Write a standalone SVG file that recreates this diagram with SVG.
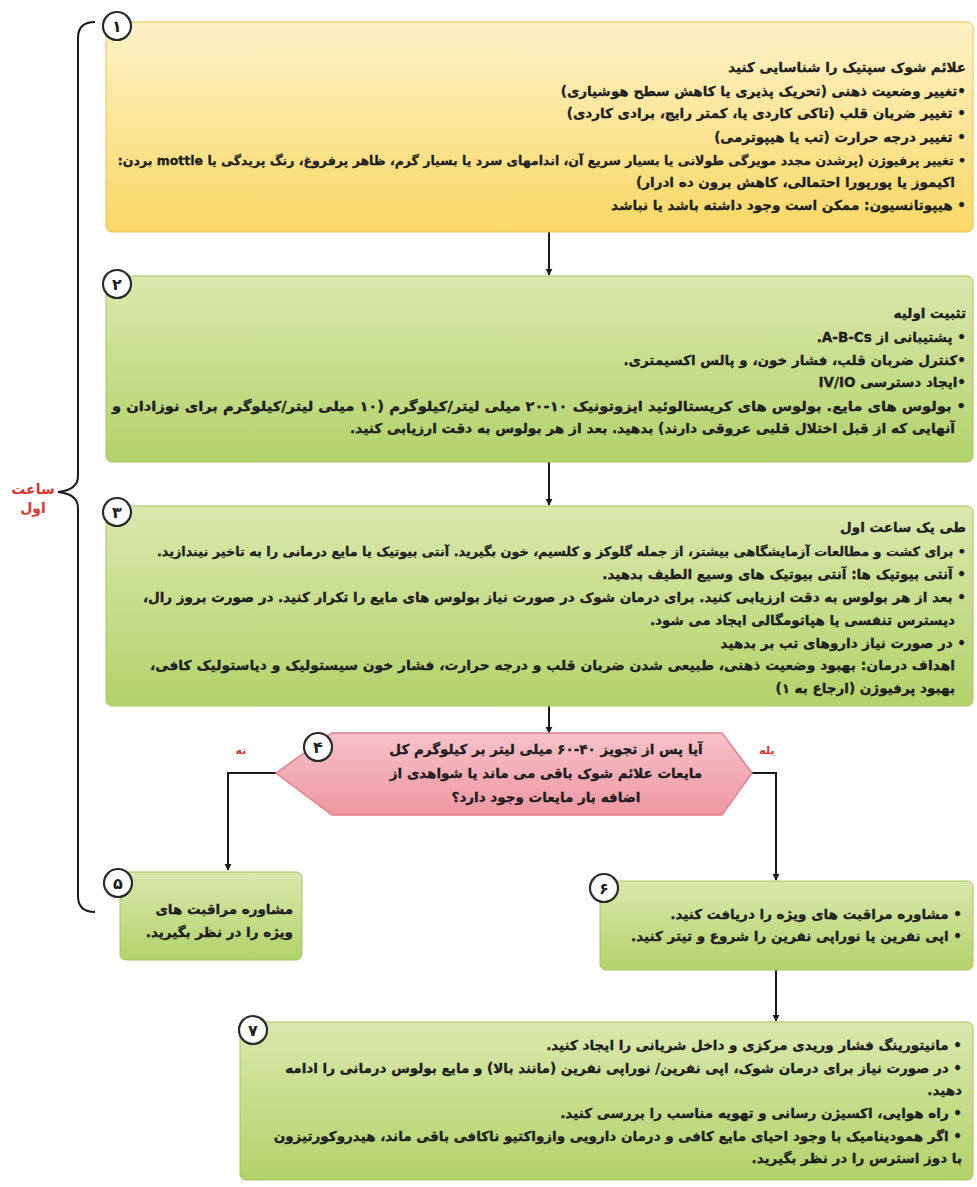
<svg xmlns="http://www.w3.org/2000/svg" width="977" height="1187" viewBox="0 0 977 1187">
<defs>
<linearGradient id="gY" x1="0" y1="0" x2="0" y2="1"><stop offset="0" stop-color="#fdf2c8"/><stop offset="1" stop-color="#f9d865"/></linearGradient>
<linearGradient id="gG" x1="0" y1="0" x2="0" y2="1"><stop offset="0" stop-color="#dae8ad"/><stop offset="1" stop-color="#b3d26a"/></linearGradient>
<linearGradient id="gP" x1="0" y1="0" x2="0" y2="1"><stop offset="0" stop-color="#f6c2c8"/><stop offset="1" stop-color="#ee97a3"/></linearGradient>
<marker id="ah" viewBox="0 0 10 10" refX="9" refY="5" markerWidth="7" markerHeight="8" orient="auto" markerUnits="userSpaceOnUse"><path d="M0,0 L10,5 L0,10 z" fill="#1a1a1a"/></marker>
<style>
.t{font-family:'DejaVu Sans','Noto Sans',sans-serif;font-weight:bold;font-size:13.5px;fill:#1e1e1e;stroke:#1e1e1e;stroke-width:0.3;direction:rtl;text-anchor:start}
.m{text-anchor:middle}
.c{fill:#fff;stroke:#2a2a2a;stroke-width:2.2}
.n{font-family:'DejaVu Sans','Noto Sans',sans-serif;font-weight:bold;font-size:16px;fill:#1e1e1e;text-anchor:middle}
.ln{fill:none;stroke:#1a1a1a;stroke-width:2}
.red{font-family:'DejaVu Sans','Noto Sans',sans-serif;font-weight:bold;fill:#e0312b;text-anchor:middle;direction:rtl}
.by{fill:url(#gY);stroke:#e8c24a;stroke-width:1}
.bg{fill:url(#gG);stroke:#a6c45c;stroke-width:1}
</style>
</defs>
<rect width="977" height="1187" fill="#fff"/>

<g id="connectors">
<path class="ln" d="M95,22 Q78,22 78,38 L78,476 Q78,490 58,492 Q78,494 78,508 L78,896 Q78,912 95,912"/>
<line class="ln" x1="549" y1="232" x2="549" y2="275" marker-end="url(#ah)"/>
<line class="ln" x1="549" y1="462" x2="549" y2="505" marker-end="url(#ah)"/>
<line class="ln" x1="549" y1="706" x2="549" y2="733" marker-end="url(#ah)"/>
<path class="ln" d="M276,773 L228,773 L228,870" marker-end="url(#ah)"/>
<path class="ln" d="M752,773 L776,773 L776,880" marker-end="url(#ah)"/>
<line class="ln" x1="776" y1="970" x2="776" y2="1021" marker-end="url(#ah)"/>
</g>

<g id="bracket-label">
<text class="red" x="33" y="494" font-size="14">ساعت</text>
<text class="red" x="33" y="513" font-size="14">اول</text>
</g>

<g id="node1">
<rect class="by" x="106" y="22" width="867" height="210" rx="6"/>
<circle class="c" cx="117" cy="26" r="14"/><text class="n" x="117" y="32">۱</text>
<text class="t" x="966" y="72">علائم شوک سپتیک را شناسایی کنید</text>
<text class="t" x="966" y="96">•تغییر وضعیت ذهنی (تحریک پذیری یا کاهش سطح هوشیاری)</text>
<text class="t" x="966" y="118">• تغییر ضربان قلب (تاکی کاردی یا، کمتر رایج، برادی کاردی)</text>
<text class="t" x="966" y="142">• تغییر درجه حرارت (تب یا هیپوترمی)</text>
<text class="t" x="966" y="165" style="font-size:12.5px">• تغییر پرفیوژن (پرشدن مجدد مویرگی طولانی یا بسیار سریع آن، اندامهای سرد یا بسیار گرم، ظاهر پرفروغ، رنگ پریدگی یا mottle بردن:</text>
<text class="t" x="955" y="187">اکیموز یا پورپورا احتمالی، کاهش برون ده ادرار)</text>
<text class="t" x="966" y="210">• هیپوتانسیون: ممکن است وجود داشته باشد یا نباشد</text>
</g>

<g id="node2">
<rect class="bg" x="106" y="276" width="867" height="186" rx="6"/>
<circle class="c" cx="117" cy="284" r="14"/><text class="n" x="117" y="290">۲</text>
<text class="t" x="966" y="318">تثبیت اولیه</text>
<text class="t" x="966" y="342">• پشتیبانی از A-B-Cs.</text>
<text class="t" x="966" y="365">•کنترل ضربان قلب، فشار خون، و پالس اکسیمتری.</text>
<text class="t" x="966" y="387">•ایجاد دسترسی IV/IO</text>
<text class="t" x="966" y="411" textLength="854" lengthAdjust="spacingAndGlyphs">• بولوس های مایع. بولوس های کریستالوئید ایزوتونیک ۱۰-۲۰ میلی لیتر/کیلوگرم (۱۰ میلی لیتر/کیلوگرم برای نوزادان و</text>
<text class="t" x="955" y="433" textLength="605" lengthAdjust="spacingAndGlyphs">آنهایی که از قبل اختلال قلبی عروقی دارند) بدهید. بعد از هر بولوس به دقت ارزیابی کنید.</text>
</g>

<g id="node3">
<rect class="bg" x="106" y="506" width="867" height="200" rx="6"/>
<circle class="c" cx="117" cy="512" r="14"/><text class="n" x="117" y="518">۳</text>
<text class="t" x="966" y="532">طی یک ساعت اول</text>
<text class="t" x="966" y="556" style="font-size:12.8px">• برای کشت و مطالعات آزمایشگاهی بیشتر، از جمله گلوکز و کلسیم، خون بگیرید. آنتی بیوتیک یا مایع درمانی را به تاخیر نیندازید.</text>
<text class="t" x="966" y="579">• آنتی بیوتیک ها: آنتی بیوتیک های وسیع الطیف بدهید.</text>
<text class="t" x="966" y="602">• بعد از هر بولوس به دقت ارزیابی کنید. برای درمان شوک در صورت نیاز بولوس های مایع را تکرار کنید. در صورت بروز رال،</text>
<text class="t" x="955" y="625">دیسترس تنفسی یا هپاتومگالی ایجاد می شود.</text>
<text class="t" x="966" y="648">• در صورت نیاز داروهای تب بر بدهید</text>
<text class="t" x="955" y="670" textLength="805" lengthAdjust="spacingAndGlyphs">اهداف درمان: بهبود وضعیت ذهنی، طبیعی شدن ضربان قلب و درجه حرارت، فشار خون سیستولیک و دیاستولیک کافی،</text>
<text class="t" x="955" y="693">بهبود پرفیوژن (ارجاع به ۱)</text>
</g>

<g id="node4">
<polygon points="276,773 332,733 722,733 752,773 722,815 332,815" fill="url(#gP)" stroke="#e47f8d" stroke-width="1.5"/>
<circle class="c" cx="318" cy="747" r="14"/><text class="n" x="318" y="753">۴</text>
<text class="t m" x="546" y="754">آیا پس از تجویز ۴۰-۶۰ میلی لیتر بر کیلوگرم کل</text>
<text class="t m" x="546" y="778">مایعات علائم شوک باقی می ماند یا شواهدی از</text>
<text class="t m" x="546" y="802">اضافه بار مایعات وجود دارد؟</text>
<text class="red" x="241" y="754" font-size="11">نه</text>
<text class="red" x="767" y="754" font-size="11">بله</text>
</g>

<g id="node5">
<rect class="bg" x="120" y="872" width="182" height="88" rx="6"/>
<circle class="c" cx="118" cy="883" r="14"/><text class="n" x="118" y="889">۵</text>
<text class="t" x="293" y="914">مشاوره مراقبت های</text>
<text class="t" x="293" y="937">ویژه را در نظر بگیرید.</text>
</g>

<g id="node6">
<rect class="bg" x="600" y="881" width="373" height="89" rx="6"/>
<circle class="c" cx="604" cy="888" r="14"/><text class="n" x="604" y="894">۶</text>
<text class="t" x="962" y="919">• مشاوره مراقبت های ویژه را دریافت کنید.</text>
<text class="t" x="962" y="941">• اپی نفرین یا نوراپی نفرین را شروع و تیتر کنید.</text>
</g>

<g id="node7">
<rect class="bg" x="240" y="1022" width="733" height="158" rx="6"/>
<circle class="c" cx="253" cy="1030" r="14"/><text class="n" x="253" y="1036">۷</text>
<text class="t" x="962" y="1050">• مانیتورینگ فشار وریدی مرکزی و داخل شریانی را ایجاد کنید.</text>
<text class="t" x="962" y="1073">• در صورت نیاز برای درمان شوک، اپی نفرین/ نوراپی نفرین (مانند بالا) و مایع بولوس درمانی را ادامه</text>
<text class="t" x="962" y="1095">دهید.</text>
<text class="t" x="962" y="1118">• راه هوایی، اکسیژن رسانی و تهویه مناسب را بررسی کنید.</text>
<text class="t" x="962" y="1141">• اگر همودینامیک با وجود احیای مایع کافی و درمان دارویی وازواکتیو ناکافی باقی ماند، هیدروکورتیزون</text>
<text class="t" x="962" y="1163">با دوز استرس را در نظر بگیرید.</text>
</g>
</svg>
